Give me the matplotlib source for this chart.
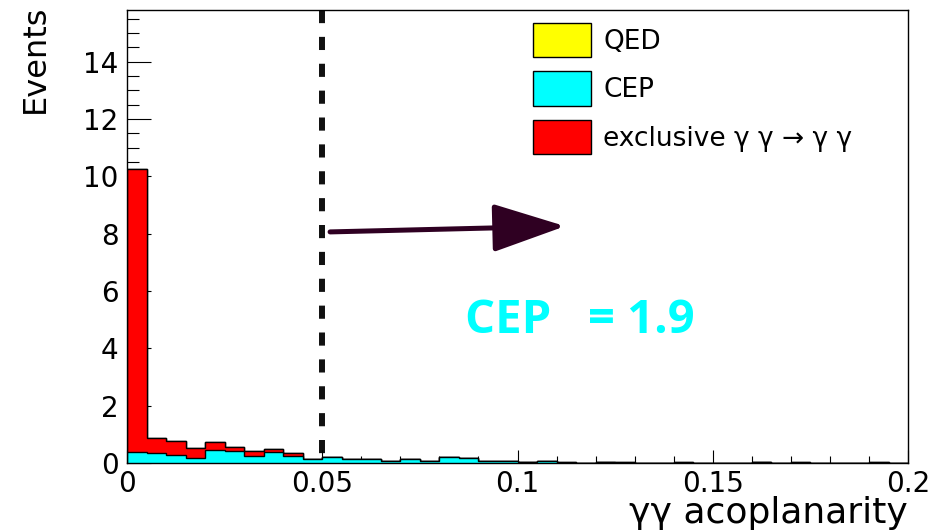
import numpy as np
import matplotlib
matplotlib.use('Agg')
import matplotlib.pyplot as plt
import matplotlib.ticker as mticker
from matplotlib.patches import Patch, FancyArrowPatch

plt.rcParams['font.family'] = ['DejaVu Sans']

# acoplanarity bins, width 0.005
bin_edges = np.linspace(0, 0.2, 41)
cep = [0.40, 0.34, 0.28, 0.16, 0.44, 0.42, 0.24, 0.39, 0.24, 0.15,
       0.20, 0.14, 0.13, 0.08, 0.15, 0.06, 0.21, 0.17, 0.07, 0.07,
       0.035, 0.07, 0, 0, 0.04, 0, 0, 0, 0, 0,
       0, 0, 0.03, 0, 0, 0, 0, 0, 0, 0]
exclusive = [9.87, 0.52, 0.49, 0.35, 0.28, 0.14, 0.18, 0.09, 0.10, 0,
             0, 0, 0, 0, 0, 0, 0, 0, 0, 0,
             0, 0, 0.02, 0, 0, 0.02, 0, 0, 0.02, 0,
             0, 0, 0, 0, 0.02, 0, 0, 0, 0.02, 0]
qed = [0] * 40

x_ticks = [0, 0.05, 0.1, 0.15, 0.2]
x_tick_labels = ['0', '0.05', '0.1', '0.15', '0.2']
y_ticks = [0, 2, 4, 6, 8, 10, 12, 14]
y_max = 15.8
cut = 0.05
cep_label = 'CEP   = 1.9'

fig = plt.figure(figsize=(9.45, 5.32), dpi=100)
ax = fig.add_axes([0.1344, 0.1297, 0.8265, 0.8515])

# stacked: CEP at the bottom, exclusive on top, QED on top of that
s_cep = np.array(cep)
s_excl = s_cep + np.array(exclusive)
s_qed = s_excl + np.array(qed)

# cut line below the histograms
ax.plot([cut, cut], [y_max, 0], color='#111111', lw=4.3,
        linestyle=(0, (2.2, 2.3)), zorder=1)

for vals, col in [(s_qed, '#ffff00'), (s_excl, '#ff0000'), (s_cep, '#00ffff')]:
    ax.stairs(vals, bin_edges, fill=True, facecolor=col,
              edgecolor='black', linewidth=1.0, zorder=2)

ax.set_xlim(0, 0.2)
ax.set_ylim(0, y_max)
ax.set_xticks(x_ticks)
ax.set_xticklabels(x_tick_labels)
ax.set_yticks(y_ticks)
ax.xaxis.set_minor_locator(mticker.MultipleLocator(0.01))
ax.yaxis.set_minor_locator(mticker.MultipleLocator(0.5))
ax.tick_params(axis='y', which='major', direction='in', length=17,
               width=0.8, labelsize=20, pad=6)
ax.tick_params(axis='y', which='minor', direction='in', length=8.6, width=0.8)
ax.tick_params(axis='x', which='major', direction='in', length=9.4,
               width=0.8, labelsize=20, pad=5)
ax.tick_params(axis='x', which='minor', direction='in', length=4.7, width=0.8)
for sp in ax.spines.values():
    sp.set_linewidth(1.0)

ax.set_ylabel('Events', fontsize=23)
ax.yaxis.set_label_coords(-0.097, 1.012)
ax.yaxis.label.set_horizontalalignment('right')
ax.set_xlabel('\u03b3\u03b3 acoplanarity', fontsize=26)
ax.xaxis.set_label_coords(1.0, -0.072)
ax.xaxis.label.set_horizontalalignment('right')

handles = [Patch(facecolor='#ffff00', edgecolor='black', label='QED'),
           Patch(facecolor='#00ffff', edgecolor='black', label='CEP'),
           Patch(facecolor='#ff0000', edgecolor='black',
                 label='exclusive \u03b3 \u03b3 \u2192 \u03b3 \u03b3')]
ax.legend(handles=handles, loc='upper left', bbox_to_anchor=(0.52, 0.972),
          frameon=False, fontsize=19, handlelength=2.2, handleheight=1.64,
          labelspacing=0.53, handletextpad=0.45, borderpad=0,
          borderaxespad=0)

arrow = FancyArrowPatch((0.052, 8.06), (0.1122, 8.26),
                        arrowstyle='-|>,head_length=4.5,head_width=1.5',
                        mutation_scale=10, color='#2f0022', lw=3.6,
                        shrinkA=0, shrinkB=0, zorder=4)
ax.add_patch(arrow)

ax.text(0.0866, 4.53, cep_label, color='#00ffff', fontsize=34,
        fontweight='bold', family='Open Sans', ha='left', va='baseline')

fig.savefig('out.png', dpi=100)
